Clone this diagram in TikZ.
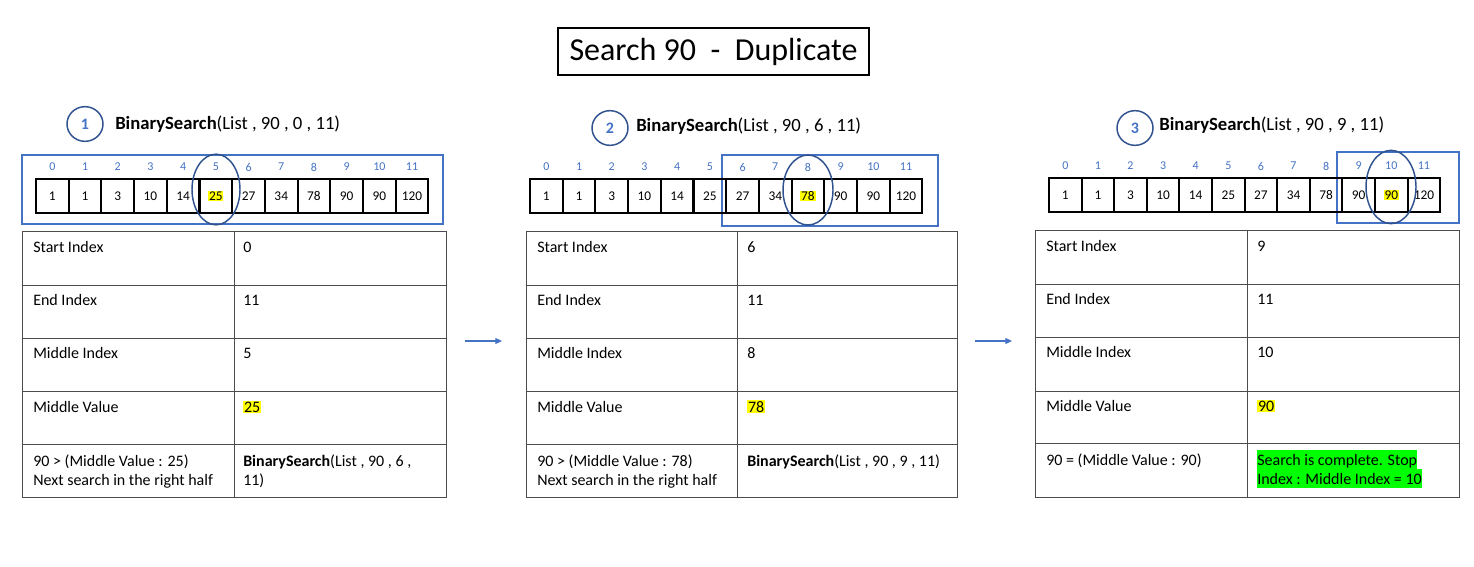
\documentclass[tikz,border=0pt]{standalone}
\usepackage{fontspec}
\setmainfont{Carlito}
\usepackage{xcolor}
\usetikzlibrary{shapes.geometric,arrows.meta}

\definecolor{idxblue}{HTML}{4472C4}
\definecolor{ringblue}{HTML}{2F528F}
\definecolor{hlyellow}{HTML}{FFFF00}
\definecolor{hlgreen}{HTML}{00FF00}
\newcommand{\hlyel}[1]{{\setlength{\fboxsep}{0.6pt}\colorbox{hlyellow}{#1}}}

\begin{document}
\begin{tikzpicture}[
    x=0.75pt, y=-0.75pt,
    every node/.style={font=\fontsize{12}{14.25}\selectfont},
    titlebox/.style={draw, line width=1.1pt, minimum width=233pt, minimum height=35pt, font=\fontsize{24}{28}\selectfont},
    cell/.style={draw, line width=1.5pt, minimum width=24.5pt, minimum height=25.5pt, inner sep=0pt, font=\fontsize{10}{12}\selectfont},
    idx/.style={text=idxblue, inner sep=0pt, font=\fontsize{9}{11}\selectfont},
    ring/.style={ellipse, draw=ringblue, line width=1.1pt, inner sep=0pt},
    num/.style={ellipse, draw=ringblue, line width=1.1pt, minimum width=27pt, minimum height=26pt, text=idxblue, font=\fontsize{12}{14}\selectfont\bfseries},
    call/.style={anchor=west, inner sep=0pt, font=\fontsize{14}{17}\selectfont},
    hlframe/.style={draw=idxblue, line width=1.5pt},
    tabline/.style={draw=black!70, line width=0.75pt},
    lbl/.style={anchor=base west, inner sep=0pt, align=left},
    done/.style={anchor=base west, inner sep=0pt, fill=hlgreen, text height=11pt, text depth=3.25pt},
    flow/.style={draw=idxblue, line width=0.8pt, -{Triangle[length=5pt,width=4.5pt]}}
]
\useasboundingbox (0,0) rectangle (1474,567);

% Title
\node[titlebox] (title) at (713.5,51.5) {Search 90\ \ -\ \ Duplicate};

% Step 1
\node[num] (n1) at (85,124) {1};
\node[call] (c1) at (115,124) {\textbf{BinarySearch}(List , 90 , 0 , 11)};
\draw[hlframe] (22,155) rectangle (443,224);
\foreach \v [count=\i from 0] in {1,1,3,10,14,25,27,34,78,90,90,120} {
  \node[cell] (a1-\i) at ({36+(\i+0.5)*32.7},196) {\ifnum\i=5 \hlyel{\v}\else\v\fi};
  \node[idx] (i1-\i) at ({36+(\i+0.5)*32.7},167) {\i};
}
\node[ring, minimum width=36pt, minimum height=53pt] (m1) at (216,189.5) {};

\draw[tabline] (22,231) rectangle (446,497);
\foreach \r in {285,338,391,444} \draw[tabline] (22,\r) -- (446,\r);
\draw[tabline] (234,231) -- (234,497);
\node[lbl] (k1-1) at (33,252) {Start Index};
\node[lbl] (v1-1) at (243,252) {0};
\node[lbl] (k1-2) at (33,305) {End Index};
\node[lbl] (v1-2) at (243,305) {11};
\node[lbl] (k1-3) at (33,358) {Middle Index};
\node[lbl] (v1-3) at (243,358) {5};
\node[lbl] (k1-4) at (33,412) {Middle Value};
\node[lbl] (v1-4) at (243,412) {\hlyel{25}};
\node[lbl] (k1-5) at (33,485) {90 > (Middle Value : 25)\\Next search in the right half};
\node[lbl] (v1-5) at (243,485) {\textbf{BinarySearch}(List , 90 , 6 ,\\11)};

% Step 2
\node[num] (n2) at (610,128) {2};
\node[call] (c2) at (636,126) {\textbf{BinarySearch}(List , 90 , 6 , 11)};
\draw[hlframe] (722,155) rectangle (938,226);
\foreach \v [count=\i from 0] in {1,1,3,10,14,25,27,34,78,90,90,120} {
  \node[cell] (a2-\i) at ({530+(\i+0.5)*32.7},196) {\ifnum\i=8 \hlyel{\v}\else\v\fi};
  \node[idx] (i2-\i) at ({530+(\i+0.5)*32.7},167) {\i};
}
\node[ring, minimum width=37.5pt, minimum height=52.5pt] (m2) at (808,190) {};

\draw[tabline] (526,231) rectangle (957,497);
\foreach \r in {285,338,391,444} \draw[tabline] (526,\r) -- (957,\r);
\draw[tabline] (737,231) -- (737,497);
\node[lbl] (k2-1) at (537,252) {Start Index};
\node[lbl] (v2-1) at (747,252) {6};
\node[lbl] (k2-2) at (537,305) {End Index};
\node[lbl] (v2-2) at (747,305) {11};
\node[lbl] (k2-3) at (537,358) {Middle Index};
\node[lbl] (v2-3) at (747,358) {8};
\node[lbl] (k2-4) at (537,412) {Middle Value};
\node[lbl] (v2-4) at (747,412) {\hlyel{78}};
\node[lbl] (k2-5) at (537,485) {90 > (Middle Value : 78)\\Next search in the right half};
\node[lbl] (v2-5) at (747,466) {\textbf{BinarySearch}(List , 90 , 9 , 11)};

% Step 3
\node[num] (n3) at (1135,128) {3};
\node[call] (c3) at (1159,125) {\textbf{BinarySearch}(List , 90 , 9 , 11)};
\draw[hlframe] (1337,152) rectangle (1459,223);
\foreach \v [count=\i from 0] in {1,1,3,10,14,25,27,34,78,90,90,120} {
  \node[cell] (a3-\i) at ({1049+(\i+0.5)*32.6},195) {\ifnum\i=10 \hlyel{\v}\else\v\fi};
  \node[idx] (i3-\i) at ({1049+(\i+0.5)*32.6},166) {\i};
}
\node[ring, minimum width=37.5pt, minimum height=55pt] (m3) at (1391,187) {};

\draw[tabline] (1035,230) rectangle (1459,497);
\foreach \r in {284,337,391,443} \draw[tabline] (1035,\r) -- (1459,\r);
\draw[tabline] (1247,230) -- (1247,497);
\node[lbl] (k3-1) at (1046,251) {Start Index};
\node[lbl] (v3-1) at (1257,251) {9};
\node[lbl] (k3-2) at (1046,304) {End Index};
\node[lbl] (v3-2) at (1257,304) {11};
\node[lbl] (k3-3) at (1046,357) {Middle Index};
\node[lbl] (v3-3) at (1257,357) {10};
\node[lbl] (k3-4) at (1046,411) {Middle Value};
\node[lbl] (v3-4) at (1257,411) {\hlyel{90}};
\node[lbl] (k3-5) at (1046,465) {90 = (Middle Value : 90)};
\node[done] (v3-5) at (1257,465) {Search is complete. Stop};
\node[done] (v3-6) at (1257,484) {Index : Middle Index = 10};

% Arrows
\coordinate (ar1s) at (465,341);
\coordinate (ar1e) at (502,341);
\coordinate (ar2s) at (975,341);
\coordinate (ar2e) at (1012,341);
\draw[flow] (ar1s) -- (ar1e);
\draw[flow] (ar2s) -- (ar2e);
\end{tikzpicture}
\end{document}
